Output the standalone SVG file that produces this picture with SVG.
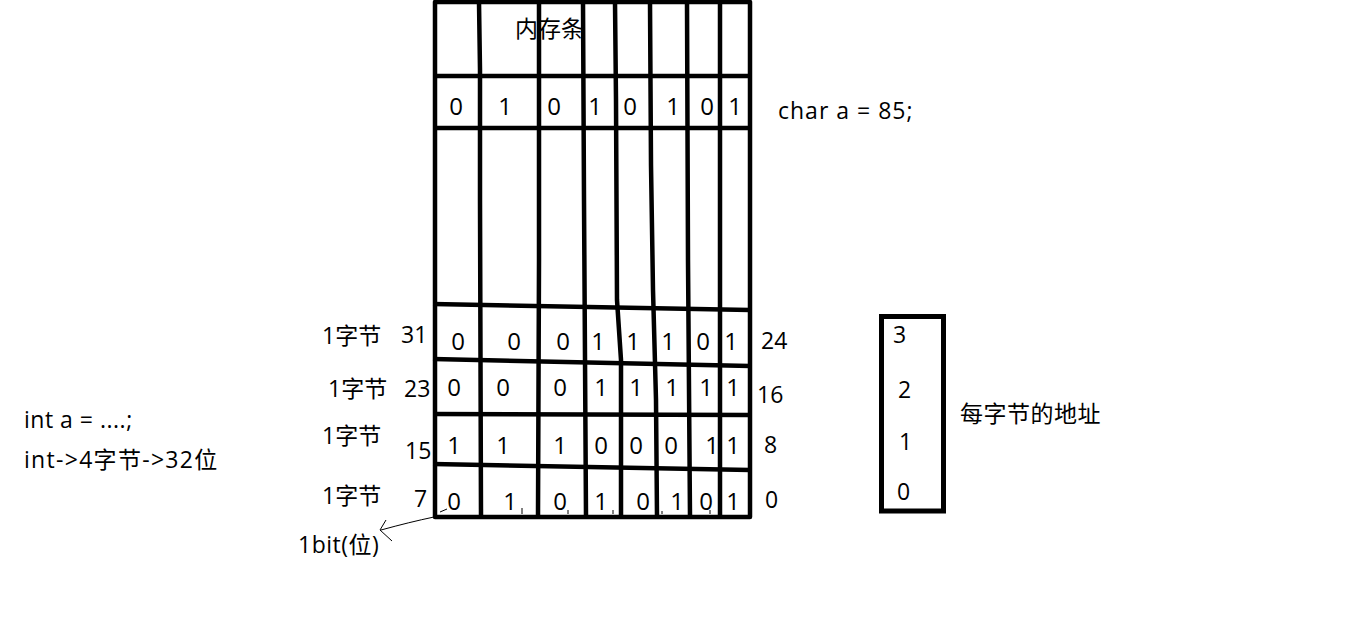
<svg xmlns="http://www.w3.org/2000/svg" width="1360" height="631" viewBox="0 0 1360 631">
<style>
.t{font-family:"Open Sans","Noto Sans CJK SC",sans-serif;font-size:23px;fill:#000}
.b{font-family:"Open Sans","Noto Sans CJK SC",sans-serif;font-size:24px;fill:#000;text-anchor:middle}
.k{stroke:#000;stroke-width:4.5;fill:none;stroke-linejoin:round}
.thin{stroke:#000;stroke-width:1;fill:none}
</style>
<rect width="1360" height="631" fill="#fff"/>
<g id="memory-strip">
<rect class="k" x="435" y="2" width="315" height="515"/>
<line class="k" x1="435" y1="76" x2="750" y2="76"/>
<line class="k" x1="435" y1="128" x2="750" y2="128"/>
<line class="k" x1="433" y1="304" x2="750" y2="310"/>
<line class="k" x1="433" y1="359" x2="750" y2="366"/>
<line class="k" x1="433" y1="414" x2="750" y2="415"/>
<line class="k" x1="433" y1="464" x2="750" y2="470"/>
<polyline class="k" points="479,2 480,70 480,200 481,517"/>
<polyline class="k" points="539,2 539,260 538,517"/>
<polyline class="k" points="583,2 584,200 586,517"/>
<polyline class="k" points="615,2 616,100 617,300 621,360 621,517"/>
<polyline class="k" points="650,2 651,165 653,290 656,400 657,517"/>
<polyline class="k" points="687,2 688,260 690,517"/>
<line class="k" x1="720" y1="2" x2="720" y2="517"/>
<line class="thin" x1="522" y1="508" x2="522" y2="514"/>
<line class="thin" x1="568" y1="510" x2="568" y2="514"/>
<line class="thin" x1="613" y1="510" x2="613" y2="514"/>
<line class="thin" x1="662" y1="511" x2="662" y2="514"/>
<line class="thin" x1="710" y1="510" x2="710" y2="514"/>
<text class="t" x="515" y="37">内存条</text>
</g>
<g id="row-char">
<text class="b" x="456" y="115">0</text><text class="b" x="505" y="115">1</text><text class="b" x="554" y="115">0</text><text class="b" x="595" y="115">1</text><text class="b" x="630" y="115">0</text><text class="b" x="673" y="115">1</text><text class="b" x="707" y="115">0</text><text class="b" x="735" y="115">1</text>
</g>
<g id="row-31">
<text class="b" x="458" y="350">0</text><text class="b" x="514" y="350">0</text><text class="b" x="563" y="350">0</text><text class="b" x="598" y="350">1</text><text class="b" x="633" y="350">1</text><text class="b" x="668" y="350">1</text><text class="b" x="703" y="350">0</text><text class="b" x="731" y="350">1</text>
</g>
<g id="row-23">
<text class="b" x="454" y="396">0</text><text class="b" x="503" y="396">0</text><text class="b" x="560" y="396">0</text><text class="b" x="601" y="396">1</text><text class="b" x="636" y="396">1</text><text class="b" x="672" y="396">1</text><text class="b" x="706" y="396">1</text><text class="b" x="733" y="396">1</text>
</g>
<g id="row-15">
<text class="b" x="454" y="454">1</text><text class="b" x="503" y="454">1</text><text class="b" x="560" y="454">1</text><text class="b" x="601" y="454">0</text><text class="b" x="636" y="454">0</text><text class="b" x="671" y="454">0</text><text class="b" x="712" y="454">1</text><text class="b" x="733" y="454">1</text>
</g>
<g id="row-7">
<text class="b" x="454" y="510">0</text><text class="b" x="510" y="510">1</text><text class="b" x="560" y="510">0</text><text class="b" x="601" y="510">1</text><text class="b" x="643" y="510">0</text><text class="b" x="677" y="510">1</text><text class="b" x="706" y="510">0</text><text class="b" x="733" y="510">1</text>
</g>
<g id="left-labels">
<text class="t" x="322" y="344">1字节</text><text class="t" x="401" y="343">31</text>
<text class="t" x="328" y="397">1字节</text><text class="t" x="404" y="397">23</text>
<text class="t" x="322" y="444">1字节</text><text class="t" x="405" y="459">15</text>
<text class="t" x="322" y="504">1字节</text><text class="t" x="414" y="507">7</text>
</g>
<g id="right-labels">
<text class="t" x="778" y="119" letter-spacing="1">char a = 85;</text>
<text class="t" x="761" y="349">24</text>
<text class="t" x="757" y="403">16</text>
<text class="t" x="764" y="453">8</text>
<text class="t" x="765" y="508">0</text>
</g>
<g id="address-box">
<rect x="881.5" y="316.5" width="62" height="194.5" fill="none" stroke="#000" stroke-width="5"/>
<text class="t" x="893" y="343">3</text>
<text class="t" x="898" y="398">2</text>
<text class="t" x="899" y="450">1</text>
<text class="t" x="897" y="500">0</text>
</g>
<g id="address-label"><text class="t" x="960" y="422" letter-spacing="0.5">每字节的地址</text></g>
<g id="int-note">
<text class="t" x="24" y="428" letter-spacing="0.5">int a = ....;</text>
<text class="t" x="24" y="468" letter-spacing="1.3">int-&gt;4字节-&gt;32位</text>
</g>
<g id="bit-label"><text class="t" x="298" y="553" letter-spacing="0.5">1bit(位)</text></g>
<g id="connectors">
<path class="thin" d="M434,517 Q410,522 381,530"/>
<polyline class="thin" points="386,520 380,530 392,541"/>
<line class="thin" x1="440" y1="512" x2="447" y2="509"/>
</g>
</svg>
